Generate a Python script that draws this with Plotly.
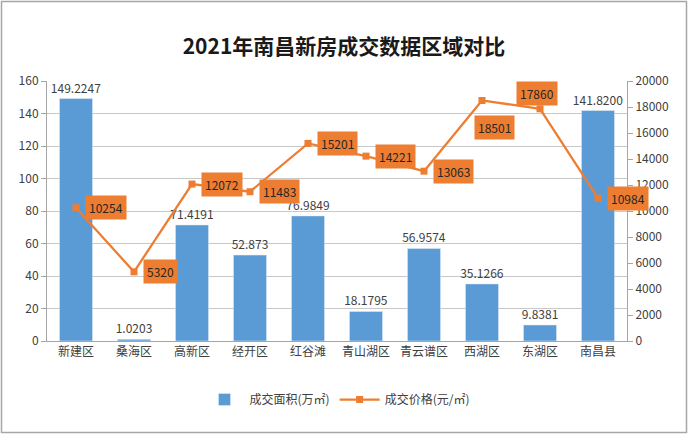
import plotly.graph_objects as go

categories = ["新建区", "桑海区", "高新区", "经开区", "红谷滩", "青山湖区", "青云谱区", "西湖区", "东湖区", "南昌县"]
area = [149.2247, 1.0203, 71.4191, 52.873, 76.9849, 18.1795, 56.9574, 35.1266, 9.8381, 141.8200]
area_labels = ["149.2247", "1.0203", "71.4191", "52.873", "76.9849", "18.1795", "56.9574", "35.1266", "9.8381", "141.8200"]
price = [10254, 5320, 12072, 11483, 15201, 14221, 13063, 18501, 17860, 10984]
# label placement per point: r = right, b = below, t = above
label_pos = ["r", "r", "r", "r", "r", "r", "r", "b", "t", "r"]

W, H = 688, 434
ml, mr, mt, mb = 47, 61, 81, 93
pw, ph = W - ml - mr, H - mt - mb

FONT = "Noto Sans CJK SC, Noto Sans, sans-serif"
BLUE = "#5B9BD5"
ORANGE = "#ED7D31"

fig = go.Figure()
fig.add_trace(go.Bar(
    x=categories, y=area, name="成交面积(万㎡)",
    marker_color=BLUE, text=area_labels, textposition="outside",
    constraintext="none",
    textfont=dict(size=12, color="#404040", family=FONT), cliponaxis=False,
))
fig.add_trace(go.Scatter(
    x=categories, y=price, name="成交价格(元/㎡)", yaxis="y2",
    mode="lines+markers", line=dict(color=ORANGE, width=2.25),
    marker=dict(symbol="square", size=7, color=ORANGE),
))

for c, p, pos in zip(categories, price, label_pos):
    if pos == "r":
        kw = dict(xanchor="left", yanchor="middle", xshift=9, yshift=0)
    elif pos == "b":
        kw = dict(xanchor="center", yanchor="middle", xshift=12, yshift=-27)
    else:
        kw = dict(xanchor="center", yanchor="middle", xshift=-3, yshift=15)
    fig.add_annotation(x=c, y=p, xref="x", yref="y2", text=str(p), showarrow=False,
                       bgcolor=ORANGE, borderpad=3,
                       font=dict(size=12, color="#262626", family=FONT), **kw)

# outer chart border
fig.add_shape(type="rect", xref="paper", yref="paper",
              x0=-(ml - 1.5) / pw, x1=1 + (mr - 1.5) / pw,
              y0=-(mb - 1.5) / ph, y1=1 + (mt - 1.5) / ph,
              line=dict(color="#A6A6A6", width=1.5))

fig.update_layout(
    width=W, height=H,
    margin=dict(l=ml, r=mr, t=mt, b=mb),
    paper_bgcolor="white", plot_bgcolor="white",
    font=dict(family=FONT, size=12, color="#595959"),
    title=dict(text="<b>2021年南昌新房成交数据区域对比</b>", x=0.5, xanchor="center",
               y=1 - 47 / H, yanchor="middle",
               font=dict(size=21, color="#1a1a1a", family=FONT)),
    bargap=0.43,
    showlegend=True,
    legend=dict(orientation="h", x=0.5, xanchor="center", y=-0.225, yanchor="middle",
                font=dict(size=12, color="#404040", family=FONT), itemwidth=40),
    xaxis=dict(range=[-0.5, len(categories) - 0.5], showline=True, linecolor="#A6A6A6",
               linewidth=1, ticks="", tickfont=dict(size=12, color="#404040")),
    yaxis=dict(range=[0, 160], dtick=20, showgrid=True, gridcolor="#C8C8C8",
               showline=True, linecolor="#A6A6A6", ticks="outside", ticklen=5,
               tickcolor="#A6A6A6", zeroline=False,
               tickfont=dict(size=12, color="#404040")),
    yaxis2=dict(range=[0, 20000], dtick=2000, overlaying="y", side="right",
                tickformat="d",
                showgrid=False, showline=True, linecolor="#A6A6A6", ticks="outside",
                ticklen=5, tickcolor="#A6A6A6", zeroline=False,
                tickfont=dict(size=12, color="#404040")),
)

fig.write_html("out.html", config={"displayModeBar": False},
               post_script="document.body.style.margin='0';")
